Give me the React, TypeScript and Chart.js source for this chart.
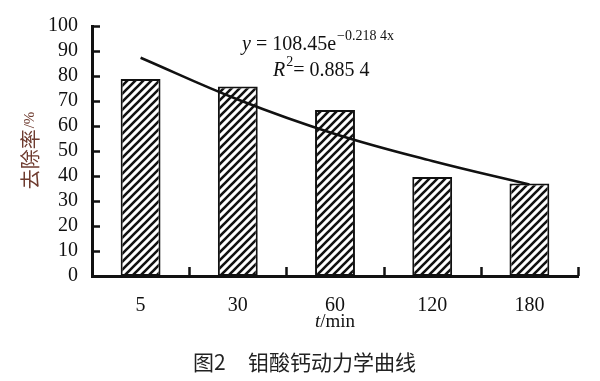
import React, { useEffect, useRef } from "react";
import { Chart, registerables } from "chart.js";

Chart.register(...registerables);

const categories = ["5", "30", "60", "120", "180"];
const removalRate = [78.8, 75.8, 66.4, 39.6, 37.0];
const trendValues = [87.3, 70.6, 56.8, 46.0, 36.6];
const yTickValues = [0, 10, 20, 30, 40, 50, 60, 70, 80, 90, 100];

function makeHatch(): CanvasPattern | string {
  const c = document.createElement("canvas");
  const s = 8;
  c.width = s;
  c.height = s;
  const g = c.getContext("2d");
  if (!g) return "#fff";
  g.fillStyle = "#fff";
  g.fillRect(0, 0, s, s);
  g.strokeStyle = "#111";
  g.lineWidth = 2.6;
  g.beginPath();
  g.moveTo(-2, s + 2);
  g.lineTo(s + 2, -2);
  g.moveTo(-2, 2);
  g.lineTo(2, -2);
  g.moveTo(s - 2, s + 2);
  g.lineTo(s + 2, s - 2);
  g.stroke();
  const p = g.createPattern(c, "repeat");
  return p || "#fff";
}

const decorPlugin = {
  id: "decor",
  afterDraw(chart: any) {
    const ctx = chart.ctx as CanvasRenderingContext2D;
    const area = chart.chartArea;
    const x = chart.scales.x;
    const y = chart.scales.y;
    ctx.save();
    // inner ticks
    ctx.strokeStyle = "#111";
    ctx.lineWidth = 2.5;
    ctx.beginPath();
    yTickValues.forEach((v) => {
      const py = Math.round(y.getPixelForValue(v)) + 0.5;
      ctx.moveTo(area.left, py);
      ctx.lineTo(area.left + 8, py);
    });
    for (let i = 0; i <= categories.length; i++) {
      const px = Math.round(x.getPixelForValue(i - 0.5)) + 0.5;
      ctx.moveTo(px, area.bottom);
      ctx.lineTo(px, area.bottom - 9);
    }
    ctx.stroke();

    // y axis title
    ctx.save();
    ctx.translate(30, 151);
    ctx.rotate(-Math.PI / 2);
    ctx.fillStyle = "#6e3b2f";
    ctx.textBaseline = "middle";
    ctx.font = '20px "Noto Sans CJK SC"';
    const t1 = "去除率";
    const t2 = "/%";
    const w1 = ctx.measureText(t1).width;
    ctx.font = '15px "Liberation Serif"';
    const w2 = ctx.measureText(t2).width;
    const start = -(w1 + w2) / 2;
    ctx.font = '20px "Noto Sans CJK SC"';
    ctx.textAlign = "left";
    ctx.fillText(t1, start, 0);
    ctx.font = '15px "Liberation Serif"';
    ctx.fillText(t2, start + w1 + 1, 0);
    ctx.restore();

    // x axis title
    ctx.fillStyle = "#111";
    ctx.textBaseline = "alphabetic";
    ctx.textAlign = "left";
    ctx.font = 'italic 19px "Liberation Serif"';
    const tw = ctx.measureText("t").width;
    ctx.font = '19px "Liberation Serif"';
    const mw = ctx.measureText("/min").width;
    const cx = (area.left + area.right) / 2;
    const xs = cx - (tw + mw) / 2;
    ctx.font = 'italic 19px "Liberation Serif"';
    ctx.fillText("t", xs, 327);
    ctx.font = '19px "Liberation Serif"';
    ctx.fillText("/min", xs + tw, 327);

    // equation
    let ex = 242;
    ctx.font = 'italic 20px "Liberation Serif"';
    ctx.fillText("y", ex, 50);
    ex += ctx.measureText("y").width;
    ctx.font = '20px "Liberation Serif"';
    const eq = " = 108.45e";
    ctx.fillText(eq, ex, 50);
    ex += ctx.measureText(eq).width;
    ctx.font = '14px "Liberation Serif"';
    ctx.fillText("\u22120.218 4x", ex + 1, 40);

    let rx = 273;
    ctx.font = 'italic 20px "Liberation Serif"';
    ctx.fillText("R", rx, 76);
    rx += ctx.measureText("R").width;
    ctx.font = '14px "Liberation Serif"';
    ctx.fillText("2", rx + 1, 66);
    rx += ctx.measureText("2").width + 1;
    ctx.font = '20px "Liberation Serif"';
    ctx.fillText("= 0.885 4", rx, 76);

    // caption
    ctx.fillStyle = "#222";
    ctx.textBaseline = "middle";
    ctx.font = '21px "Noto Sans CJK SC"';
    ctx.fillText("图2", 193, 362);
    ctx.fillText("钼酸钙动力学曲线", 248, 362);
    ctx.restore();
  },
};

export default function App() {
  const ref = useRef<HTMLCanvasElement | null>(null);
  useEffect(() => {
    if (!ref.current) return;
    const hatch = makeHatch();
    const chart = new Chart(ref.current, {
      type: "bar",
      data: {
        labels: categories,
        datasets: [
          {
            type: "line",
            data: trendValues,
            borderColor: "#111",
            borderWidth: 2.5,
            pointRadius: 0,
            tension: 0.4,
            fill: false,
            order: 0,
          } as any,
          {
            type: "bar",
            data: removalRate,
            backgroundColor: hatch as any,
            borderColor: "#111",
            borderWidth: 2,
            borderSkipped: false,
            barPercentage: 0.41,
            categoryPercentage: 1,
            order: 1,
          },
        ],
      },
      options: {
        responsive: false,
        animation: false,
        layout: { padding: { top: 21, right: 22, left: 0, bottom: 0 } },
        plugins: {
          legend: { display: false },
          tooltip: { enabled: false },
          title: { display: false },
        },
        scales: {
          x: {
            type: "category",
            offset: true,
            grid: { display: false, drawTicks: false },
            border: { display: true, width: 3, color: "#111" },
            ticks: {
              padding: 18,
              color: "#111",
              font: { family: "Liberation Serif", size: 20 },
            },
            afterFit: (s: any) => {
              s.height = 105;
            },
          },
          y: {
            min: 0,
            max: 100,
            grid: { display: false, drawTicks: false },
            border: { display: true, width: 3, color: "#111" },
            ticks: {
              stepSize: 10,
              autoSkip: false,
              padding: 14,
              color: "#111",
              font: { family: "Liberation Serif", size: 20 },
            },
            afterFit: (s: any) => {
              s.width = 92;
            },
          },
        },
      },
      plugins: [decorPlugin],
    });
    return () => chart.destroy();
  }, []);
  return (
    <div style={{ position: "fixed", left: 0, top: 0, width: 600, height: 381, background: "#fff" }}>
      <canvas ref={ref} width={600} height={381} />
    </div>
  );
}
